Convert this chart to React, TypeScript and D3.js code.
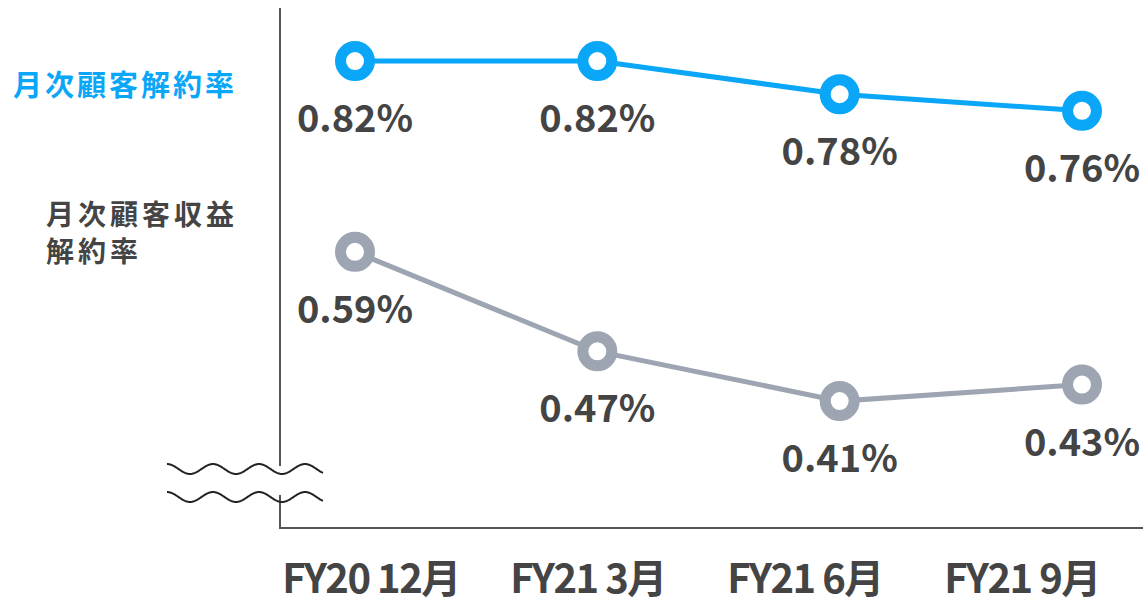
import React, { useRef, useEffect } from 'react';
import * as d3 from 'd3';

const periods = ['FY20 12月', 'FY21 3月', 'FY21 6月', 'FY21 9月'];
const customerChurn = [0.82, 0.82, 0.78, 0.76];
const revenueChurn = [0.59, 0.47, 0.41, 0.43];
const customerLabel = ['月次顧客解約率'];
const revenueLabel = ['月次顧客収益', '解約率'];

const BLUE = '#0aa6f7';
const GRAY = '#9ca5b1';
const TEXT = '#444444';
const FONT = '"Noto Sans CJK JP", "Noto Sans", sans-serif';

const App = () => {
  const svgRef = useRef<SVGSVGElement>(null);

  useEffect(() => {
    document.body.style.margin = '0';
    const width = 1143;
    const svg = d3.select(svgRef.current);
    svg.selectAll('*').remove();

    const axisX = 280;
    const axisY = 528;

    // broken y axis: domain chosen so both series share one scale
    const y = d3.scaleLinear().domain([0.257, 0.884]).range([axisY, 8]);
    const x = d3.scalePoint().domain(periods).range([355, 1082]);
    const xLabel = d3.scalePoint().domain(periods).range([371, 1022]);

    // axes
    svg.append('line')
      .attr('x1', axisX).attr('x2', axisX)
      .attr('y1', 8).attr('y2', 466)
      .attr('stroke', '#555').attr('stroke-width', 2);
    svg.append('line')
      .attr('x1', axisX).attr('x2', axisX)
      .attr('y1', 495).attr('y2', axisY)
      .attr('stroke', '#555').attr('stroke-width', 2);
    svg.append('line')
      .attr('x1', axisX - 1).attr('x2', width)
      .attr('y1', axisY).attr('y2', axisY)
      .attr('stroke', '#555').attr('stroke-width', 2);

    // break marks
    const wave = d3.line<number>()
      .x(t => 167 + t)
      .y(t => -Math.cos((t / 46) * 2 * Math.PI) * 5);
    const ts = d3.range(0, 157, 1);
    [469, 497].forEach(cy => {
      svg.append('path')
        .attr('d', wave(ts))
        .attr('transform', `translate(0,${cy})`)
        .attr('fill', 'none')
        .attr('stroke', '#222')
        .attr('stroke-width', 2);
    });

    const line = d3.line<number>()
      .x((_, i) => x(periods[i]) as number)
      .y(d => y(d));

    const drawSeries = (values: number[], color: string) => {
      svg.append('path')
        .datum(values)
        .attr('d', line)
        .attr('fill', 'none')
        .attr('stroke', color)
        .attr('stroke-width', 5);
      svg.selectAll(null)
        .data(values)
        .enter()
        .append('circle')
        .attr('cx', (_, i) => x(periods[i]) as number)
        .attr('cy', d => y(d))
        .attr('r', 14.5)
        .attr('fill', '#fff')
        .attr('stroke', color)
        .attr('stroke-width', 11);
      svg.selectAll(null)
        .data(values)
        .enter()
        .append('text')
        .attr('x', (_, i) => x(periods[i]) as number)
        .attr('y', d => y(d) + 71)
        .attr('text-anchor', 'middle')
        .attr('font-family', FONT)
        .attr('font-weight', 700)
        .attr('font-size', 38)
        .attr('fill', TEXT)
        .text(d => `${d.toFixed(2)}%`);
    };

    drawSeries(customerChurn, BLUE);
    drawSeries(revenueChurn, GRAY);

    // x labels
    svg.selectAll(null)
      .data(periods)
      .enter()
      .append('text')
      .attr('x', d => xLabel(d) as number)
      .attr('y', 593)
      .attr('text-anchor', 'middle')
      .attr('font-family', FONT)
      .attr('font-weight', 700)
      .attr('font-size', 40)
      .attr('letter-spacing', -1.5)
      .attr('fill', TEXT)
      .text(d => d);

    // series names
    svg.selectAll(null)
      .data(customerLabel)
      .enter()
      .append('text')
      .attr('x', 13)
      .attr('y', 96)
      .attr('font-family', FONT)
      .attr('font-weight', 700)
      .attr('font-size', 29)
      .attr('letter-spacing', 3)
      .attr('fill', BLUE)
      .text(d => d);
    svg.selectAll(null)
      .data(revenueLabel)
      .enter()
      .append('text')
      .attr('x', 46)
      .attr('y', (_, i) => 225 + i * 37)
      .attr('font-family', FONT)
      .attr('font-weight', 700)
      .attr('font-size', 28)
      .attr('letter-spacing', 4)
      .attr('fill', TEXT)
      .text(d => d);
  }, []);

  return <svg ref={svgRef} width={1143} height={600} style={{ display: 'block', background: '#fff' }} />;
};

export default App;
